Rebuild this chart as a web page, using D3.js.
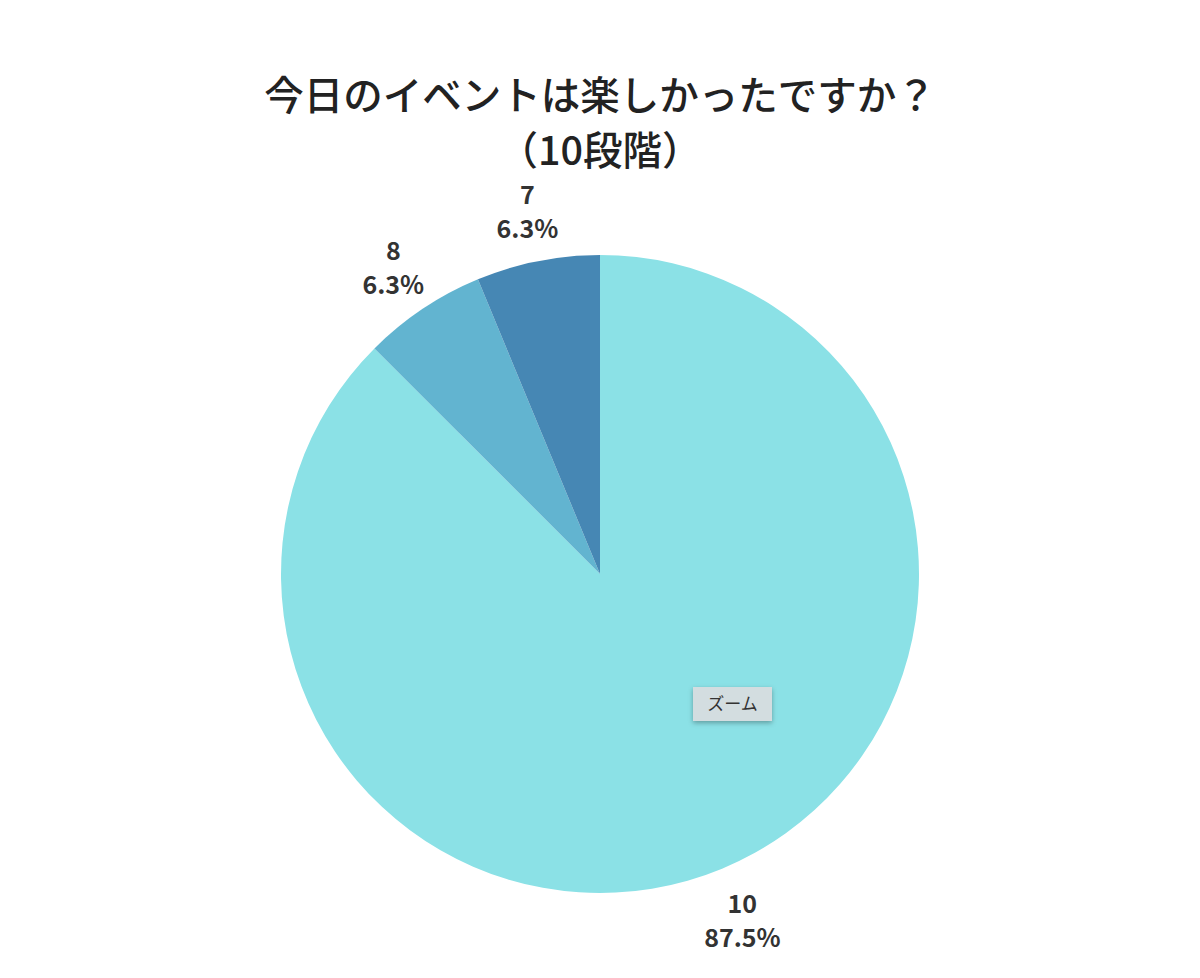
<!DOCTYPE html>
<html>
<head>
<meta charset="utf-8">
<script src="https://cdn.jsdelivr.net/npm/d3@7"></script>
<style>
  body { margin: 0; background: #fff; }
  svg { display: block; font-family: "Noto Sans CJK JP", "Noto Sans", sans-serif; }
</style>
</head>
<body>
<svg id="chart" width="1200" height="978"></svg>
<script>
const titleLines = ["今日のイベントは楽しかったですか？", "（10段階）"];
const categories = ["10", "8", "7"];
const counts = [14, 1, 1];
const percentLabels = ["87.5%", "6.3%", "6.3%"];
const sliceColors = ["#8be1e6", "#62b4d0", "#4687b4"];

const width = 1200;
const height = 978;
const cx = 600;
const cy = 574;
const radius = 319;
const labelRadius = 372;

const svg = d3.select("#chart");

// title
svg.append("g")
  .selectAll("text")
  .data(titleLines)
  .join("text")
  .attr("x", width / 2)
  .attr("y", (d, i) => 110 + i * 55)
  .attr("text-anchor", "middle")
  .attr("font-size", 39.5)
  .attr("font-weight", 500)
  .attr("fill", "#222")
  .text(d => d);

const slices = categories.map((c, i) => ({name: c, value: counts[i], pct: percentLabels[i], color: sliceColors[i]}));

const pie = d3.pie().value(d => d.value).sort(null);
const arc = d3.arc().innerRadius(0).outerRadius(radius);
const labelArc = d3.arc().innerRadius(labelRadius).outerRadius(labelRadius);

const g = svg.append("g").attr("transform", `translate(${cx},${cy})`);

g.selectAll("path")
  .data(pie(slices))
  .join("path")
  .attr("d", arc)
  .attr("fill", d => d.data.color);

const labels = g.selectAll("g.label")
  .data(pie(slices))
  .join("g")
  .attr("class", "label")
  .attr("transform", d => `translate(${labelArc.centroid(d)})`);

labels.append("text")
  .attr("text-anchor", "middle")
  .attr("y", -5)
  .attr("font-size", 25)
  .attr("font-weight", "bold")
  .attr("fill", "#333")
  .text(d => d.data.name);

labels.append("text")
  .attr("text-anchor", "middle")
  .attr("y", 29)
  .attr("font-size", 25)
  .attr("font-weight", "bold")
  .attr("fill", "#333")
  .text(d => d.data.pct);

// zoom button
const defs = svg.append("defs");
const shadow = defs.append("filter").attr("id", "btnShadow").attr("x", "-20%").attr("y", "-30%").attr("width", "140%").attr("height", "180%");
shadow.append("feDropShadow").attr("dx", 0).attr("dy", 2).attr("stdDeviation", 2.5).attr("flood-color", "#000").attr("flood-opacity", 0.3);

const btn = svg.append("g").attr("transform", "translate(693,687)");
btn.append("rect")
  .attr("width", 79)
  .attr("height", 34)
  .attr("fill", "#d3dde0")
  .attr("filter", "url(#btnShadow)");
btn.append("text")
  .attr("x", 39.5)
  .attr("y", 23)
  .attr("text-anchor", "middle")
  .attr("font-size", 17)
  .attr("fill", "#333")
  .text("ズーム");
</script>
</body>
</html>
